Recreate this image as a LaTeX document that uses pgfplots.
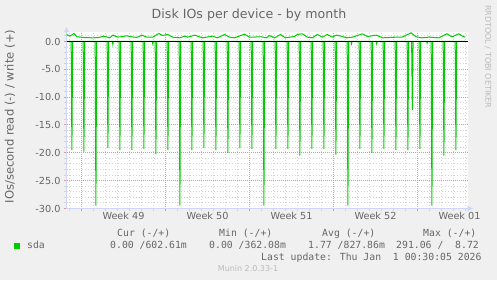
\documentclass[border=0pt]{standalone}
\usepackage{pgfplots}
\pgfplotsset{compat=1.18}
\usepackage{pgfplotstable}
\usepackage{fontspec}
\setmainfont{DejaVu Sans}
\newfontfamily\monofont{DejaVu Sans Mono}
\usetikzlibrary{arrows.meta}
\definecolor{bg}{HTML}{F0F0F0}
\definecolor{fontc}{HTML}{666666}
\definecolor{axisc}{HTML}{CFD6F8}
\definecolor{mgrid}{HTML}{EC9292}
\definecolor{gridc}{HTML}{D4D4D4}
\definecolor{muningreen}{HTML}{00CC00}
\definecolor{wm}{HTML}{BBBBBB}

\pgfplotstableread{
day val
-1.25 0
-0.86 0
-0.80 -19.5
-0.74 0
0.14 0
0.20 -19.8
0.26 0
1.14 0
1.20 -29.5
1.26 0
2.14 0
2.20 -19.1
2.26 0
2.57 0
2.61 -0.5
2.65 0
3.14 0
3.20 -19.5
3.26 0
4.14 0
4.20 -19.5
4.26 0
5.14 0
5.20 -19.3
5.26 0
5.90 0
5.94 -0.4
5.98 0
6.14 0
6.20 -20.2
6.26 0
7.14 0
7.20 -19.5
7.26 0
8.14 0
8.20 -29.5
8.26 0
9.14 0
9.20 -19.5
9.26 0
10.14 0
10.20 -19.1
10.26 0
11.14 0
11.20 -19.5
11.26 0
12.14 0
12.20 -20.0
12.26 0
13.14 0
13.20 -19.1
13.26 0
14.14 0
14.20 -19.3
14.26 0
15.14 0
15.20 -29.5
15.26 0
16.14 0
16.20 -19.3
16.26 0
17.14 0
17.20 -19.3
17.26 0
18.14 0
18.20 -20.5
18.26 0
19.14 0
19.20 -19.3
19.26 0
20.14 0
20.20 -19.3
20.26 0
21.14 0
21.20 -20.3
21.26 0
22.14 0
22.20 -29.5
22.26 0
22.46 0
22.50 -0.4
22.54 0
23.14 0
23.20 -19.3
23.26 0
24.14 0
24.20 -20.0
24.26 0
24.56 0
24.60 -0.4
24.64 0
25.14 0
25.20 -19.3
25.26 0
26.14 0
26.20 -19.5
26.26 0
27.14 0
27.20 -19.5
27.26 0
27.51 0
27.57 -12.3
27.63 0
28.14 0
28.20 -19.3
28.26 0
28.76 0
28.80 -0.3
28.84 0
29.14 0
29.20 -29.5
29.26 0
30.14 0
30.20 -20.5
30.26 0
31.14 0
31.20 -19.5
31.26 0
31.95 0
}\readdata

\pgfplotstableread{
day val
-1.25 1.26
-0.96 0.96
-0.63 1.44
-0.38 0.84
0.28 0.70
0.95 0.66
1.40 0.70
1.86 0.96
2.36 0.66
2.61 1.14
3.03 0.78
3.77 1.02
4.19 0.84
4.61 0.72
5.02 1.14
5.44 0.78
5.94 0.78
6.44 1.44
6.77 1.08
7.19 1.26
7.60 0.78
8.18 0.66
8.60 0.96
8.85 0.78
9.43 1.14
10.09 0.66
10.92 0.96
11.34 0.66
11.92 1.26
12.34 0.78
12.75 0.66
13.58 1.32
14.00 0.78
15.00 0.84
15.41 0.66
15.66 1.08
16.08 0.66
16.58 1.26
16.99 0.66
17.74 0.90
17.99 1.26
18.40 1.38
18.82 0.78
19.23 0.66
19.65 1.26
20.07 0.78
20.48 1.26
20.90 0.78
21.23 1.14
21.65 0.96
22.08 0.66
22.58 0.78
23.41 1.38
23.82 0.90
24.57 1.14
25.07 0.66
26.23 0.78
26.73 0.78
27.46 1.56
27.88 0.84
28.37 0.66
28.96 0.78
29.79 0.66
30.45 1.38
30.87 0.84
31.45 1.38
31.70 1.02
31.95 0.78
}\writedata

\begin{document}
\begin{tikzpicture}[x=1bp,y=1bp]
\path[fill=bg, use as bounding box] (0,0) rectangle (497,280);
\begin{axis}[
  at={(66.5bp,71.5bp)}, anchor=south west,
  scale only axis, width=401bp, height=176bp,
  xmin=-1.25, xmax=32.1667, ymin=-30, ymax=1.6168,
  axis x line*=bottom, axis y line*=left,
  axis line style={draw=axisc, line width=1bp, -{Latex[length=6bp,width=6bp]}, shorten >=-6bp},
  axis background/.style={fill=white},
  xtick={0,7,14,21,28}, xticklabels={},
  minor xtick={-1,1,2,3,4,5,6,8,9,10,11,12,13,15,16,17,18,19,20,22,23,24,25,26,27,29,30,31,32},
  ytick={-30,-25,-20,-15,-10,-5,0},
  yticklabels={-30.0,-25.0,-20.0,-15.0,-10.0,-5.0,0.0},
  minor ytick={-29,-28,-27,-26,-24,-23,-22,-21,-19,-18,-17,-16,-14,-13,-12,-11,-9,-8,-7,-6,-4,-3,-2,-1,1},
  grid=both,
  major grid style={draw=mgrid, dash pattern=on 1bp off 1bp, line width=1bp},
  minor grid style={draw=gridc, dash pattern=on 1bp off 2bp, line width=1bp},
  tick align=outside, major tick length=2.5bp, minor tick length=2.5bp,
  major tick style={draw=mgrid, line width=1bp},
  minor tick style={draw=gridc, line width=1bp},
  tick label style={font=\fontsize{9.7bp}{11bp}\selectfont, text=fontc},
  extra x ticks={3.5,10.5,17.5,24.5,31.5},
  extra x tick labels={Week 49,Week 50,Week 51,Week 52,Week 01},
  extra x tick style={grid=none, major tick length=0pt, tick style={draw=none}},
  clip=false,
]
\addplot[muningreen, line width=1bp, sharp plot] table[x=day,y=val] {\readdata};
\addplot[muningreen, line width=1bp, sharp plot] table[x=day,y=val] {\writedata};
\draw[black, line width=1.3bp] (axis cs:-1.25,0) -- (axis cs:32.1667,0);
\end{axis}
% title and labels
\node[font=\fontsize{12.6bp}{14bp}\selectfont, text=fontc, anchor=base, inner sep=0] at (249,261.7) {Disk IOs per device - by month};
\node[font=\fontsize{11.6bp}{13bp}\selectfont, text=fontc, rotate=90, inner sep=0] at (10,163.5) {IOs/second read (-) / write (+)};
\node[font=\fontsize{8bp}{9bp}\selectfont, text=wm, rotate=-90, anchor=west, inner sep=0] at (488,275) {RRDTOOL / TOBI OETIKER};
% legend
\fill[muningreen] (14,31.3) rectangle (20,37.3);
\begin{scope}[every node/.style={font=\monofont\fontsize{9.8bp}{11bp}\selectfont, text=fontc, anchor=base west, inner sep=0}]
\node at (27,31.3) {sda};
\node at (117,43.3) {Cur (-/+)};
\node at (219,43.3) {Min (-/+)};
\node at (322,43.3) {Avg (-/+)};
\node at (423,43.3) {Max (-/+)};
\node at (110,31.3) {0.00 /602.61m};
\node at (209,31.3) {0.00 /362.08m};
\node at (308,31.3) {1.77 /827.86m};
\node at (396,31.3) {291.06 /\ \ 8.72};
\node at (261,19.7) {Last update: Thu Jan\ \ 1 00:30:05 2026};
\end{scope}
\node[font=\fontsize{8bp}{9bp}\selectfont, text=wm, anchor=base, inner sep=0] at (248,9) {Munin 2.0.33-1};
\end{tikzpicture}
\end{document}
